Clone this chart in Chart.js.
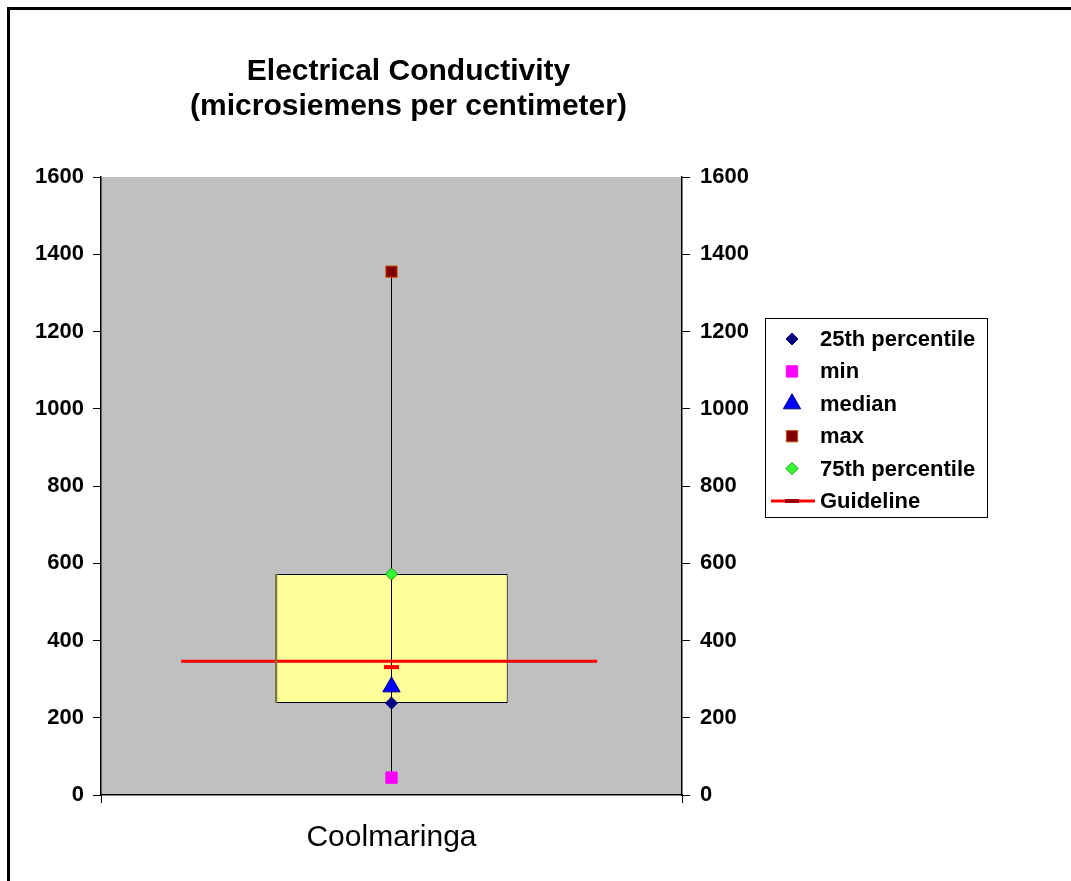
<!DOCTYPE html>
<html>
<head>
<meta charset="utf-8">
<title>Electrical Conductivity</title>
<script src="https://cdn.jsdelivr.net/npm/chart.js@4.4.1/dist/chart.umd.min.js"></script>
<style>
  html, body { margin: 0; padding: 0; background: #fff; }
  canvas { display: block; }
</style>
</head>
<body>
<canvas id="ecChart" width="1071" height="881"></canvas>
<script>
// values (microsiemens per centimeter)
const sites = ["Coolmaringa"];
const p25 = [238];
const minVals = [45];
const medians = [280];
const maxVals = [1355];
const p75 = [572];
const guideline = [346];
const guideMark = [331];
// guideline runs from/to these positions, in category units (-0.5 .. 0.5)
const guideSpan = [-0.362, 0.354];
const yTicks = [0, 200, 400, 600, 800, 1000, 1200, 1400, 1600];

const FONT = "'Liberation Sans', Arial, Helvetica, sans-serif";

// little shape painter for the legend swatches
function drawMarker(ctx, style, x, y, r, fill, stroke, bw) {
  ctx.save();
  ctx.beginPath();
  if (style === "rectRot") {
    ctx.moveTo(x - r, y); ctx.lineTo(x, y - r); ctx.lineTo(x + r, y); ctx.lineTo(x, y + r);
  } else if (style === "rect") {
    const s = r * Math.SQRT1_2;
    ctx.rect(x - s, y - s, 2 * s, 2 * s);
  } else if (style === "triangle") {
    ctx.moveTo(x, y - r);
    ctx.lineTo(x + r * Math.sin(Math.PI * 2 / 3), y - r * Math.cos(Math.PI * 2 / 3));
    ctx.lineTo(x - r * Math.sin(Math.PI * 2 / 3), y - r * Math.cos(Math.PI * 2 / 3));
  }
  ctx.closePath();
  ctx.fillStyle = fill;
  ctx.fill();
  ctx.lineWidth = bw;
  ctx.strokeStyle = stroke;
  ctx.stroke();
  ctx.restore();
}

const pageBits = {
  id: "pageBits",
  beforeDraw(chart) {
    const { ctx, chartArea } = chart;
    ctx.save();
    ctx.fillStyle = "#fff";
    ctx.fillRect(0, 0, chart.width, chart.height);
    // outer frame (top + left visible)
    ctx.strokeStyle = "#000";
    ctx.lineWidth = 3;
    ctx.beginPath();
    ctx.moveTo(8.5, chart.height);
    ctx.lineTo(8.5, 8.5);
    ctx.lineTo(chart.width, 8.5);
    ctx.stroke();
    // grey plot area
    ctx.fillStyle = "#C0C0C0";
    ctx.fillRect(chartArea.left, chartArea.top, chartArea.right - chartArea.left, chartArea.bottom - chartArea.top);
    ctx.restore();
  },
  afterDatasetsDraw(chart) {
    // darker shading on the box's left side, as in the original
    const meta = chart.getDatasetMeta(chart.data.datasets.length - 1);
    const ctx = chart.ctx;
    meta.data.forEach(bar => {
      const left = bar.x - bar.width / 2;
      ctx.save();
      ctx.strokeStyle = "#808040";
      ctx.lineWidth = 2;
      ctx.beginPath();
      ctx.moveTo(left + 1, bar.y);
      ctx.lineTo(left + 1, bar.base);
      ctx.stroke();
      ctx.restore();
    });
  },
  afterDraw(chart) {
    const ctx = chart.ctx;
    const bx = 765, by = 318, bw = 222, bh = 199;
    ctx.save();
    ctx.fillStyle = "#fff";
    ctx.fillRect(bx, by, bw, bh);
    ctx.strokeStyle = "#000";
    ctx.lineWidth = 1;
    ctx.strokeRect(bx + 0.5, by + 0.5, bw, bh);

    const items = chart.data.datasets.filter(d => d.inLegend);
    items.forEach((d, i) => {
      const y = by + 21 + i * 32.4;
      const mx = 792;
      if (d.label === "Guideline") {
        ctx.strokeStyle = d.borderColor;
        ctx.lineWidth = 3;
        ctx.beginPath();
        ctx.moveTo(771, y);
        ctx.lineTo(815, y);
        ctx.stroke();
        ctx.fillStyle = "#990000";
        ctx.fillRect(mx - 7, y - 2, 14, 4);
      } else {
        drawMarker(ctx, d.pointStyle, mx, y, d.legendRadius, d.pointBackgroundColor, d.pointBorderColor, 1);
      }
      ctx.fillStyle = "#000";
      ctx.font = "bold 22px " + FONT;
      ctx.textBaseline = "middle";
      ctx.textAlign = "left";
      ctx.fillText(d.label, 820, y + 1);
    });
    ctx.restore();
  }
};

const marker = (label, values, style, radius, fill, stroke, legendRadius) => ({
  type: "line",
  label,
  inLegend: true,
  xAxisID: "x2",
  yAxisID: "y",
  data: values.map(v => ({ x: 0, y: v })),
  showLine: false,
  pointStyle: style,
  pointRadius: radius,
  pointBackgroundColor: fill,
  pointBorderColor: stroke,
  pointBorderWidth: 1,
  legendRadius,
  order: 0
});

const datasets = [
  marker("25th percentile", p25, "rectRot", 6, "#000080", "#000080", 6),
  marker("min", minVals, "rect", 8, "#FF00FF", "#FF00FF", 8),
  marker("median", medians, "triangle", 10, "#0000FF", "#000080", 10),
  marker("max", maxVals, "rect", 8, "#800000", "#CC5500", 8),
  marker("75th percentile", p75, "rectRot", 6, "#33FF33", "#009900", 6),
  {
    type: "line",
    label: "Guideline",
    inLegend: true,
    xAxisID: "x2",
    yAxisID: "y",
    data: [{ x: guideSpan[0], y: guideline[0] }, { x: guideSpan[1], y: guideline[0] }],
    borderColor: "#FF0000",
    borderWidth: 3,
    pointRadius: 0,
    order: 2
  },
  {
    type: "line",
    label: "guide mark",
    xAxisID: "x2",
    yAxisID: "y",
    data: guideMark.map(v => ({ x: 0, y: v })),
    showLine: false,
    pointStyle: "line",
    pointRadius: 7.5,
    pointBorderColor: "#FF0000",
    pointBorderWidth: 4,
    order: 1
  },
  {
    type: "line",
    label: "whisker",
    xAxisID: "x2",
    yAxisID: "y",
    data: [{ x: 0, y: minVals[0] }, { x: 0, y: maxVals[0] }],
    borderColor: "#000",
    borderWidth: 1,
    pointRadius: 0,
    order: 3
  },
  {
    type: "bar",
    label: "box",
    xAxisID: "x",
    yAxisID: "y",
    data: sites.map((s, i) => [p25[i], p75[i]]),
    backgroundColor: "#FFFF99",
    borderColor: "#000",
    borderWidth: 1,
    borderSkipped: false,
    barPercentage: 0.4,
    categoryPercentage: 1,
    grouped: false,
    order: 4
  }
];

const yAxis = (position, width, pad) => ({
  type: "linear",
  position,
  min: yTicks[0],
  max: yTicks[yTicks.length - 1],
  afterBuildTicks: scale => { scale.ticks = yTicks.map(v => ({ value: v })); },
  ticks: {
    color: "#000",
    padding: pad,
    font: { family: FONT, size: 22, weight: "bold" },
    callback: v => String(v)
  },
  grid: { drawOnChartArea: false, drawTicks: true, tickLength: 8, color: "#000" },
  border: { display: true, color: "#000", width: 1.5 },
  afterFit: scale => { scale.width = width; }
});

new Chart(document.getElementById("ecChart"), {
  type: "bar",
  data: { labels: sites, datasets },
  options: {
    responsive: false,
    animation: false,
    layout: { padding: { left: 0, right: 254, top: 0, bottom: 0 } },
    plugins: {
      legend: { display: false },
      tooltip: { enabled: false },
      title: {
        display: true,
        text: ["Electrical Conductivity", "(microsiemens per centimeter)"],
        color: "#000",
        font: { family: FONT, size: 30, weight: "bold", lineHeight: 1.1667 },
        padding: { top: 54, bottom: 53 }
      }
    },
    scales: {
      x: {
        type: "category",
        offset: true,
        ticks: { color: "#000", padding: 17, font: { family: FONT, size: 30 } },
        grid: { offset: true, drawOnChartArea: false, drawTicks: true, tickLength: 8, color: "#000" },
        border: { display: true, color: "#000", width: 1.5 },
        afterFit: scale => { scale.height = 86; }
      },
      x2: { type: "linear", display: false, offset: false, min: -0.5, max: 0.5 },
      y: yAxis("left", 101, 9),
      y2: yAxis("right", 135, 10)
    }
  },
  plugins: [pageBits]
});
</script>
</body>
</html>
